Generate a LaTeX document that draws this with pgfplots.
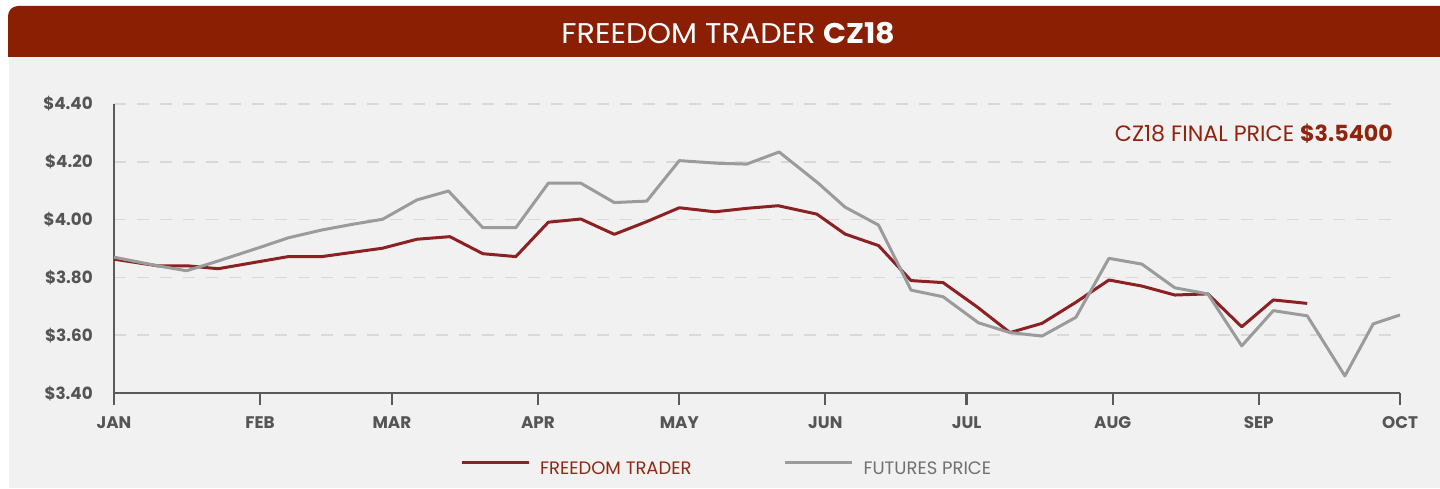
\documentclass[border=0pt]{standalone}
\usepackage{pgfplots}
\pgfplotsset{compat=1.18}
\usepackage{pgfplotstable}
\usepackage{fontspec}
\setmainfont{Poppins}
\definecolor{hdr}{RGB}{138,31,3}
\definecolor{panel}{RGB}{240,241,240}
\definecolor{ftred}{RGB}{139,33,35}
\definecolor{futgray}{RGB}{155,155,155}
\definecolor{axgray}{RGB}{90,90,90}
\definecolor{lblgray}{RGB}{85,85,85}
\definecolor{gridgray}{RGB}{216,217,216}
\definecolor{anntred}{RGB}{143,36,15}
\definecolor{leggray}{RGB}{112,112,112}
\definecolor{legred}{RGB}{143,40,20}

% x = day of year (Jan 1 = 0), y = price
\pgfplotstableread{
day price
0 3.863
9.3 3.840
15.7 3.840
22.1 3.830
37.0 3.872
44.1 3.872
57.0 3.901
64.3 3.932
71.3 3.941
78.3 3.882
85.3 3.872
92.2 3.991
99.1 4.002
106.2 3.949
113.1 3.993
120.0 4.041
127.6 4.027
134.3 4.039
141.0 4.048
149.2 4.019
155.2 3.950
162.3 3.910
169.2 3.789
176.0 3.782
183.3 3.697
190.2 3.609
197.0 3.641
204.2 3.714
211.2 3.791
218.2 3.770
225.2 3.739
232.2 3.743
239.4 3.629
246.1 3.722
253.3 3.710
}\freedom

\pgfplotstableread{
day price
0 3.870
9.3 3.840
15.4 3.823
21.0 3.851
31.0 3.904
37.0 3.937
44.1 3.964
50.7 3.984
57.0 4.001
64.3 4.068
71.0 4.099
78.3 3.972
85.3 3.972
92.2 4.126
99.1 4.126
106.2 4.059
113.1 4.064
120.0 4.204
128.2 4.195
134.3 4.192
141.2 4.234
149.5 4.126
155.2 4.043
162.3 3.981
169.2 3.756
176.0 3.733
183.5 3.643
190.2 3.609
197.0 3.597
204.2 3.662
211.2 3.866
218.2 3.846
225.2 3.764
232.2 3.743
239.4 3.563
246.1 3.685
253.3 3.667
261.3 3.459
267.3 3.639
273.0 3.670
}\futures

\begin{document}
\begin{tikzpicture}
\fill[white] (0pt,0pt) rectangle (1440pt,488pt);
\fill[panel] (9pt,0pt) rectangle (1440pt,431pt);
\fill[hdr] (1440pt,431pt) -- (8pt,431pt) [rounded corners=10pt] -- (8pt,482pt) [sharp corners] -- (1440pt,482pt) -- cycle;
\node[anchor=base, text=white, inner sep=0pt] at (728.5pt,444.7pt) {\scalebox{1.06}[1]{\fontsize{28.5}{28.5}\selectfont FREEDOM TRADER \textbf{CZ18}}};
\begin{axis}[
  at={(114pt,95pt)}, anchor=south west, scale only axis,
  width=1286pt, height=289pt,
  xmin=0, xmax=273, ymin=3.4, ymax=4.4,
  axis lines=left,
  axis line style={axgray, line width=2.3pt, -},
  xtick={0,31,59,90,120,151,181,212,243,273},
  xticklabels={JAN,FEB,MAR,APR,MAY,JUN,JUL,AUG,SEP,OCT},
  ytick={3.4,3.6,3.8,4.0,4.2,4.4},
  yticklabels={\$3.40,\$3.60,\$3.80,\$4.00,\$4.20,\$4.40},
  tick align=outside,
  major tick length=12pt,
  xtick style={axgray, line width=2.3pt},
  ytick style={draw=none},
  ymajorgrids,
  grid style={gridgray, line width=1.7pt, dash pattern=on 12pt off 11pt},
  ticklabel style={font=\bfseries\fontsize{16.8}{16.8}\selectfont, text=lblgray, inner sep=0pt, text height=12pt, text depth=0pt},
  yticklabel style={anchor=east, xshift=-9pt},
  xticklabel style={anchor=north, yshift=-11pt},
  legend style={at={(axis description cs:0.269,-0.258)}, anchor=west, draw=none, fill=none, inner sep=0pt,
    legend columns=2,
    /tikz/every odd column/.append style={column sep=10pt},
    /tikz/every even column/.append style={column sep=92pt},
    font=\fontsize{18}{18}\selectfont,
    nodes={inner sep=0pt, text height=12.5pt, text depth=0pt}},
  legend image code/.code={\draw[#1] (0pt,6.3pt) -- (67pt,6.3pt);},
]
\addplot[ftred, line width=3pt, line join=round] table[x=day, y=price] {\freedom};
\addlegendentry{\textcolor{legred}{FREEDOM TRADER}}
\addplot[futgray, line width=3pt, line join=round] table[x=day, y=price] {\futures};
\addlegendentry{\textcolor{leggray}{FUTURES PRICE}}
\end{axis}
\node[anchor=base east, text=anntred, inner sep=0pt] at (1393pt,346pt) {\fontsize{22.2}{22.2}\selectfont CZ18 FINAL PRICE \textbf{\$3.5400}};
\pgfresetboundingbox
\useasboundingbox (0pt,0pt) rectangle (1440pt,488pt);
\end{tikzpicture}
\end{document}
